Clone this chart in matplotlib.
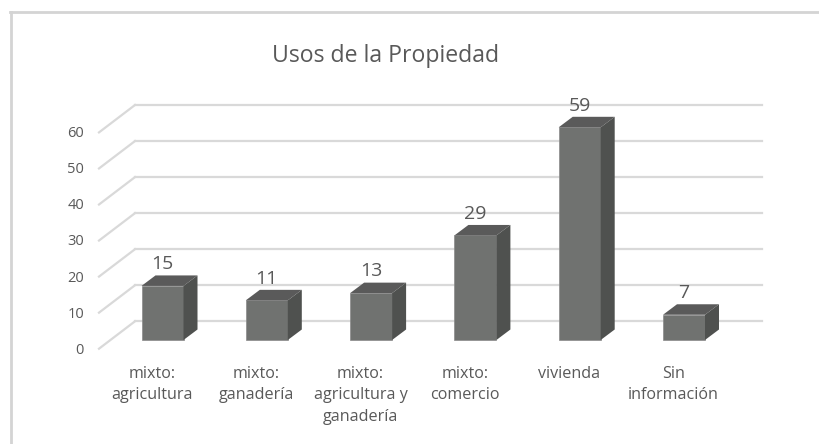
import matplotlib.pyplot as plt
from matplotlib.patches import Polygon, Rectangle

categories = ["mixto:\nagricultura", "mixto:\nganadería", "mixto:\nagricultura y\nganadería",
              "mixto:\ncomercio", "vivienda", "Sin\ninformación"]
values = [15, 11, 13, 29, 59, 7]
ticks = [0, 10, 20, 30, 40, 50, 60]

W, H = 819, 444
plt.rcParams["font.family"] = ["Open Sans", "DejaVu Sans"]
TEXT = "#595959"

fig = plt.figure(figsize=(W / 100, H / 100), dpi=100)
# axes = back wall of the 3d box
left, right, top, bottom = 135, 762, 105, 321.3
ax = fig.add_axes([left / W, 1 - bottom / H, (right - left) / W, (bottom - top) / H])
step = 104.3  # px per category
ppu = (bottom - top) / 60  # px per value unit
ax.set_xlim((left - 162.5) / step, (right - 162.5) / step)
ax.set_ylim(0, 60)
ax.axis("off")

# floor offsets, in data units
wall_dx, wall_dy = 36 / step, 27.4 / ppu
bar_y0 = -18.7 / ppu
bar_w = 42 / step
depth_x, depth_y = 14 / step, 10.5 / ppu

for t in ticks:
    ax.plot([ax.get_xlim()[0], ax.get_xlim()[1]], [t, t], color="#d9d9d9", lw=1.6, clip_on=False, zorder=1)
    ax.plot([ax.get_xlim()[0], ax.get_xlim()[0] - wall_dx], [t, t - wall_dy], color="#d9d9d9", lw=1.6,
            clip_on=False, zorder=1)
    ax.text(ax.get_xlim()[0] - 51 / step, t - wall_dy - 0.4, str(t), ha="right", va="center", fontsize=10.5,
            color=TEXT)

for i, (v, c) in enumerate(zip(values, categories)):
    x0 = i - bar_w / 2
    x1 = i + bar_w / 2
    y1 = bar_y0 + v
    ax.add_patch(Rectangle((x0, bar_y0), bar_w, v, fc="#707270", ec="#8a8a8a", lw=0.5, zorder=3, clip_on=False))
    ax.add_patch(Polygon([(x0, y1), (x1, y1), (x1 + depth_x, y1 + depth_y), (x0 + depth_x, y1 + depth_y)],
                         fc="#5a5a5a", ec="none", zorder=3, clip_on=False))
    ax.add_patch(Polygon([(x1, bar_y0), (x1 + depth_x, bar_y0 + depth_y), (x1 + depth_x, y1 + depth_y), (x1, y1)],
                         fc="#4f514f", ec="none", zorder=3, clip_on=False))
    ax.text(i, y1 + depth_y + 0.6, str(v), ha="center", va="bottom", fontsize=14, color=TEXT, zorder=4)
    ax.text(i - 10.5 / step, bar_y0 - 7.2, c, ha="center", va="top", fontsize=11.6, color=TEXT, linespacing=1.46)

fig.text(386 / W, 1 - 56 / H, "Usos de la Propiedad", ha="center", va="center", fontsize=16.6, color=TEXT)

# outer frame
fig.add_artist(plt.Line2D([10.5 / W, 10.5 / W], [0, 1 - 12 / H], color="#d4d4d4", lw=2))
fig.add_artist(plt.Line2D([10 / W, 1], [1 - 12 / H, 1 - 12 / H], color="#d4d4d4", lw=2))

fig.savefig("out.png", dpi=100)
